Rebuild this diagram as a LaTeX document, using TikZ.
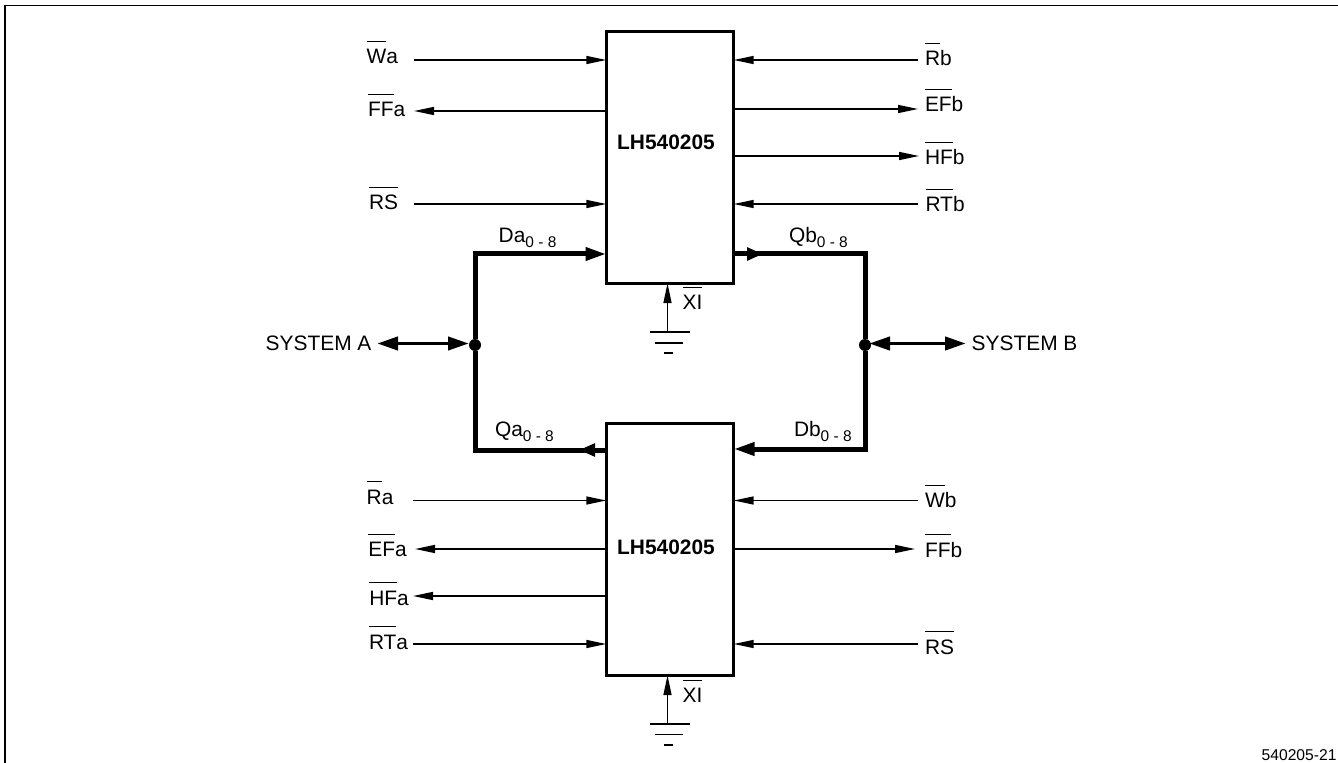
\documentclass[tikz,border=0pt]{standalone}
\usepackage{fontspec}
\setmainfont{Liberation Sans}
\usetikzlibrary{arrows.meta}

\newcommand{\barred}[1]{$\overline{\rule{0pt}{11.6pt}\mbox{#1}}$}
\newcommand{\busidx}{\raisebox{-0.1cm}{\fontsize{8.8}{10}\selectfont 0 - 8}}

\tikzset{
    every node/.style={font=\fontsize{11.9}{14}\selectfont},
    sig/.style={anchor=base west,inner sep=0pt,outer sep=0pt},
    chip/.style={draw,line width=0.06cm,minimum width=2.55cm,minimum height=5.03cm,inner sep=0pt,outer sep=0pt},
    chipname/.style={anchor=base,inner sep=0pt,font=\fontsize{11.9}{14}\selectfont\bfseries},
    junction/.style={circle,fill=black,minimum size=0.24cm,inner sep=0pt,outer sep=0pt},
    wire/.style={line width=0.03cm},
    sigarrow/.style={wire,-{Triangle[length=0.4cm,width=0.16cm]}},
    bus/.style={line width=0.1cm},
    busarrow/.style={bus,-{Triangle[length=0.42cm,width=0.25cm]}},
    stubarrow/.style={bus,-{Triangle[length=0.32cm,width=0.25cm]}},
    sysarrow/.style={line width=0.08cm,{Triangle[length=0.42cm,width=0.26cm]}-{Triangle[length=0.42cm,width=0.26cm]}}
}

\begin{document}
\begin{tikzpicture}[x=0.02cm,y=-0.02cm]
    \useasboundingbox (0,0) rectangle (1338,763);

    % Draw the open frame
    \draw[wire] (1338,5.5) -- (5,5.5) -- (5,763);

    % Draw the two chips
    \node[chip] (boxa) at (670,157.5) {};
    \node[chip] (boxb) at (670,549.5) {};
    \node[chipname] (namea) at (666,150) {LH540205};
    \node[chipname] (nameb) at (666,554) {LH540205};

    % Draw the junctions
    \node[junction] (juna) at (475,345) {};
    \node[junction] (junb) at (865,345) {};

    % Free ends of the signal lines
    \coordinate (wa) at (414,60);
    \coordinate (ffa) at (414,111);
    \coordinate (rsa) at (414,204);
    \coordinate (rb) at (918,60);
    \coordinate (efb) at (918,109);
    \coordinate (hfb) at (919,156);
    \coordinate (rtb) at (918,204);
    \coordinate (ra) at (413,500.5);
    \coordinate (efa) at (415,549);
    \coordinate (hfa) at (413,596);
    \coordinate (rta) at (413,644);
    \coordinate (wb) at (918,500.5);
    \coordinate (ffb) at (915,549);
    \coordinate (rsb) at (918,644);

    % Labels of the upper chip
    \node[sig] (lwa) at (366.7,64) {\barred{W}a};
    \node[sig] (lffa) at (368,116.7) {\barred{FF}a};
    \node[sig] (lrsa) at (369,210) {\barred{RS}};
    \node[sig] (lrb) at (925,66) {\barred{R}b};
    \node[sig] (lefb) at (925,112) {\barred{EF}b};
    \node[sig] (lhfb) at (925,165) {\barred{HF}b};
    \node[sig] (lrtb) at (925.5,211.7) {\barred{RT}b};

    % Labels of the lower chip
    \node[sig] (lra) at (366.7,504) {\barred{R}a};
    \node[sig] (lefa) at (368.3,556.7) {\barred{EF}a};
    \node[sig] (lhfa) at (369.3,605) {\barred{HF}a};
    \node[sig] (lrta) at (369,649) {\barred{RT}a};
    \node[sig] (lwb) at (925,507.7) {\barred{W}b};
    \node[sig] (lffb) at (925,557.3) {\barred{FF}b};
    \node[sig] (lrsb) at (925,654) {\barred{RS}};

    % Labels of the buses and systems
    \node[sig] (lda) at (498.7,243) {Da\busidx};
    \node[sig] (lqb) at (789,242.7) {Qb\busidx};
    \node[sig] (lqa) at (495,436.7) {Qa\busidx};
    \node[sig] (ldb) at (794,436.7) {Db\busidx};
    \node[sig] (lsysa) at (265.7,351) {SYSTEM A};
    \node[sig] (lsysb) at (971.7,350.7) {SYSTEM B};
    \node[sig] (lxia) at (682.7,310) {\barred{XI}};
    \node[sig] (lxib) at (682.7,702.7) {\barred{XI}};
    \node[sig,font=\fontsize{8.9}{10}\selectfont] (lcode) at (1261.7,760.7) {540205-21};

    % Draw signals of the upper chip
    \draw[sigarrow] (wa) -- (wa -| boxa.west);
    \draw[sigarrow] (ffa -| boxa.west) -- (ffa);
    \draw[sigarrow] (rsa) -- (rsa -| boxa.west);
    \draw[sigarrow] (rb) -- (rb -| boxa.east);
    \draw[sigarrow] (efb -| boxa.east) -- (efb);
    \draw[sigarrow] (hfb -| boxa.east) -- (hfb);
    \draw[sigarrow] (rtb) -- (rtb -| boxa.east);

    % Draw signals of the lower chip
    \draw[sigarrow] (ra) -- (ra -| boxb.west);
    \draw[sigarrow] (efa -| boxb.west) -- (efa);
    \draw[sigarrow] (hfa -| boxb.west) -- (hfa);
    \draw[sigarrow] (rta) -- (rta -| boxb.west);
    \draw[sigarrow] (wb) -- (wb -| boxb.east);
    \draw[sigarrow] (ffb -| boxb.east) -- (ffb);
    \draw[sigarrow] (rsb) -- (rsb -| boxb.east);

    % Draw the buses
    \coordinate (dapin) at (606.5,254);
    \coordinate (qbpin) at (733.5,254);
    \coordinate (qapin) at (606.5,450);
    \coordinate (dbpin) at (733.5,449);
    \coordinate (qbtip) at (763,254);
    \coordinate (qatip) at (579,450);
    \draw[busarrow] (juna) |- (dapin);
    \draw[bus] (juna) |- (qapin);
    \draw[stubarrow] (qapin) -- (qatip);
    \draw[bus] (junb) |- (qbpin);
    \draw[stubarrow] (qbpin) -- (qbtip);
    \draw[busarrow] (junb) |- (dbpin);

    % Draw the system arrows
    \coordinate (sysa) at (377,343.5);
    \coordinate (sysb) at (966,343.5);
    \draw[sysarrow] (sysa) -- (sysa -| juna.west);
    \draw[sysarrow,shorten <=-0.04cm] (sysb -| junb.east) -- (sysb);

    % Draw the grounds
    \coordinate (gnda) at (667.5,332);
    \coordinate (gndb) at (667.5,724);
    \draw[sigarrow] (gnda) -- (gnda |- boxa.south);
    \draw[sigarrow] (gndb) -- (gndb |- boxb.south);
    \draw[wire] (650,332) -- (690,332);
    \draw[wire] (655,343) -- (683,343);
    \draw[wire] (664,353) -- (673,353);
    \draw[wire] (650,724) -- (690,724);
    \draw[wire] (655,734.5) -- (683,734.5);
    \draw[wire] (664,745) -- (673,745);
\end{tikzpicture}
\end{document}
